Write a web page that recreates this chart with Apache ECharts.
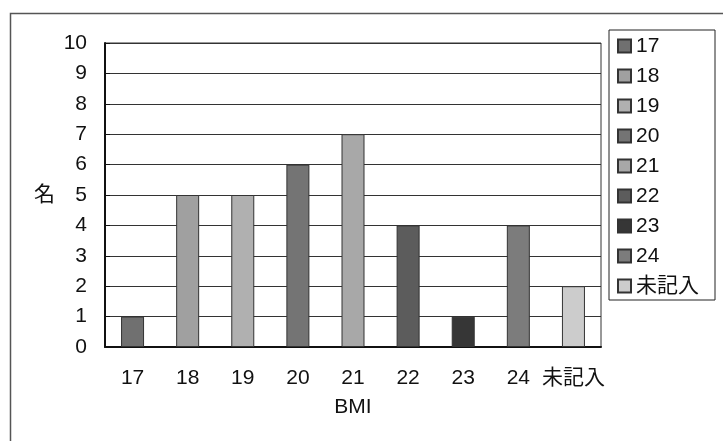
<!DOCTYPE html>
<html>
<head>
<meta charset="utf-8">
<script src="https://cdn.jsdelivr.net/npm/echarts@6/dist/echarts.min.js"></script>
<style>html,body{margin:0;padding:0;background:#fff;}#c{width:723px;height:441px;}</style>
</head>
<body>
<div id="c"></div>
<script>
var categories = ['17', '18', '19', '20', '21', '22', '23', '24', '未記入'];
var counts = [1, 5, 5, 6, 7, 4, 1, 4, 2];
var barColors = ['#707070', '#a0a0a0', '#b0b0b0', '#747474', '#a8a8a8', '#5c5c5c', '#363636', '#7c7c7c', '#cccccc'];
var yTicks = [0, 1, 2, 3, 4, 5, 6, 7, 8, 9, 10];

var FONT = "'Liberation Sans', 'Noto Sans CJK JP', sans-serif";
var TXT = '#111';
var chart = echarts.init(document.getElementById('c'));
var series = categories.map(function (name, i) {
  return {
    name: name,
    type: 'bar',
    stack: 'all',
    barWidth: 23,
    data: categories.map(function (c, j) { return j === i ? counts[i] : null; }),
    itemStyle: { color: barColors[i], borderColor: '#333', borderWidth: 1 }
  };
});
chart.setOption({
  animation: false,
  textStyle: { fontFamily: FONT },
  graphic: [{
    type: 'rect', left: 8, top: 11,
    shape: { width: 800, height: 500 },
    style: { fill: 'none', stroke: '#555', lineWidth: 1.5 },
    silent: true, z: -1
  }],
  grid: { left: 105, right: 122, top: 43, bottom: 94, show: true, borderColor: '#333', borderWidth: 1 },
  legend: {
    orient: 'vertical', left: 609, top: 30,
    padding: [5, 7, 3, 8],
    itemWidth: 13, itemHeight: 13, itemGap: 8, itemTextGap: 7,
    icon: 'rect',
    borderColor: '#222', borderWidth: 1,
    textStyle: { fontSize: 21, color: TXT, fontFamily: FONT, lineHeight: 22, width: 72 },
    data: categories
  },
  xAxis: {
    type: 'category', data: categories,
    name: 'BMI', nameLocation: 'middle', nameGap: 50,
    nameTextStyle: { fontSize: 21, color: TXT, fontFamily: FONT },
    axisLine: { lineStyle: { color: '#111', width: 2 } },
    axisTick: { inside: true, length: 8, lineStyle: { color: '#222' } },
    axisLabel: { fontSize: 21, color: TXT, margin: 21, interval: 0, fontFamily: FONT }
  },
  yAxis: {
    type: 'value', min: yTicks[0], max: yTicks[yTicks.length - 1], interval: 1,
    name: '名', nameLocation: 'middle', nameRotate: 0, nameGap: 50,
    nameTextStyle: { fontSize: 21, color: TXT, fontFamily: FONT },
    axisLine: { show: true, lineStyle: { color: '#111', width: 2 } },
    axisTick: { show: true, inside: true, length: 5, lineStyle: { color: '#111' } },
    axisLabel: { fontSize: 21, color: TXT, margin: 18, fontFamily: FONT },
    splitLine: { show: true, lineStyle: { color: '#333', width: 1 } }
  },
  series: series
});
</script>
</body>
</html>
